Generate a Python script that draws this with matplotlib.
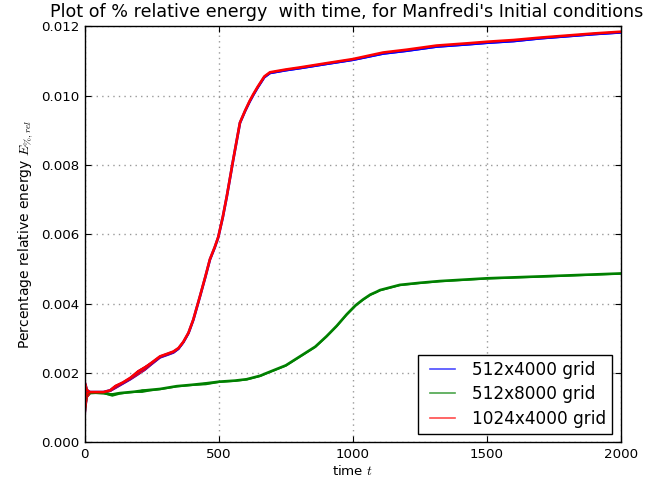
import matplotlib
matplotlib.use("Agg")
import matplotlib.pyplot as plt
from matplotlib.lines import Line2D
from matplotlib.legend_handler import HandlerLine2D
import numpy as np

plt.rcParams['mathtext.fontset'] = 'cm'
plt.rcParams['font.family'] = ['DejaVu Sans']

# time samples and relative energy (in %) for each run
t_red = [0, 3, 6, 10, 20, 40, 70, 95, 114, 143, 170, 194, 225, 250, 281, 310,
         331, 350, 368, 387, 405, 430, 450, 467, 485, 498, 515, 530, 554, 579,
         598, 615, 629, 645, 670, 691, 750, 803, 900, 1000, 1113, 1200, 1312,
         1436, 1500, 1600, 1700, 1800, 1900, 2000]
e_red = [0.00125, 0.00130, 0.00138, 0.00143, 0.00145, 0.00145, 0.00145, 0.00150,
         0.00162, 0.00173, 0.00186, 0.00201, 0.00216, 0.00230, 0.00248, 0.00256,
         0.00262, 0.00272, 0.00290, 0.00316, 0.00354, 0.00422, 0.00478, 0.00528,
         0.00563, 0.00592, 0.00650, 0.00710, 0.00816, 0.00922, 0.00956, 0.00984,
         0.01004, 0.01025, 0.01055, 0.01067, 0.01075, 0.01081, 0.01093, 0.01105,
         0.01124, 0.01132, 0.01144, 0.01151, 0.01155, 0.01160, 0.01167, 0.01173,
         0.01179, 0.01184]
# half amplitude of the fast oscillation around each sample
w_red = [0.00050, 0.00045, 0.00030, 0.00012, 0.00004, 0.00002, 0.00002, 0.00003,
         0.00006, 0.00004, 0.00005, 0.00008, 0.00007, 0.00005, 0.00004, 0.00004,
         0.00004, 0.00003, 0.00002, 0.00002, 0.00002, 0.00002, 0.00002, 0.00002,
         0.00002, 0.00002, 0.00002, 0.00002, 0.00002, 0.00002, 0.00002, 0.00002,
         0.00002, 0.00002, 0.00002, 0.00002, 0.00002, 0.00002, 0.00002, 0.00002,
         0.00002, 0.00002, 0.00002, 0.00002, 0.00002, 0.00002, 0.00002, 0.00002,
         0.00002, 0.00002]

t_blue = t_red
e_blue = [0.00125, 0.00130, 0.00138, 0.00143, 0.00145, 0.00145, 0.00145, 0.00150,
          0.00161, 0.00172, 0.00185, 0.00200, 0.00215, 0.00229, 0.00247, 0.00255,
          0.00261, 0.00271, 0.00289, 0.00315, 0.00353, 0.00421, 0.00477, 0.00527,
          0.00562, 0.00591, 0.00649, 0.00709, 0.00815, 0.00921, 0.00955, 0.00982,
          0.01002, 0.01023, 0.01053, 0.01065, 0.01073, 0.01079, 0.01091, 0.01103,
          0.01121, 0.01129, 0.01141, 0.01148, 0.01152, 0.01157, 0.01165, 0.01171,
          0.01177, 0.01182]

t_green = [0, 3, 6, 10, 20, 40, 70, 101, 130, 157, 185, 213, 240, 281, 343,
           400, 450, 502, 560, 604, 654, 679, 750, 803, 860, 902, 940, 977,
           1010, 1038, 1065, 1088, 1101, 1175, 1250, 1324, 1500, 1721, 2000]
e_green = [0.00125, 0.00130, 0.00138, 0.00142, 0.00143, 0.00143, 0.00142, 0.00138,
           0.00142, 0.00144, 0.00146, 0.00149, 0.00151, 0.00154, 0.00162, 0.00166,
           0.00170, 0.00175, 0.00178, 0.00182, 0.00192, 0.00200, 0.00222, 0.00248,
           0.00276, 0.00306, 0.00336, 0.00369, 0.00395, 0.00412, 0.00426, 0.00434,
           0.00439, 0.00454, 0.00460, 0.00465, 0.00473, 0.00479, 0.00487]
w_green = [0.00045, 0.00040, 0.00025, 0.00010, 0.00003, 0.00002, 0.00002, 0.00005,
           0.00003, 0.00002, 0.00002, 0.00005, 0.00003, 0.00002, 0.00002, 0.00002,
           0.00004, 0.00002, 0.00002, 0.00002, 0.00002, 0.00002, 0.00002, 0.00002,
           0.00002, 0.00002, 0.00002, 0.00002, 0.00002, 0.00002, 0.00002, 0.00002,
           0.00002, 0.00002, 0.00002, 0.00002, 0.00002, 0.00002, 0.00002]

labels = ["512x4000 grid", "512x8000 grid", "1024x4000 grid"]
colors = ["#0000ff", "#008000", "#ff0000"]

fig = plt.figure(figsize=(6.67, 4.84), dpi=100)
ax = fig.add_axes([0.127, 0.086, 0.804, 0.860])

def draw(t, e, w, c):
    t = np.asarray(t); e = np.asarray(e); w = np.asarray(w)
    ax.fill_between(t, e - w, e + w, color=c, lw=0)
    ax.plot(t, e, color=c, lw=1.9, solid_joinstyle='round')

draw(t_blue, e_blue, w_red, colors[0])
draw(t_green, e_green, w_green, colors[1])
draw(t_red, e_red, w_red, colors[2])

ax.set_xlim(0, 2000)
ax.set_ylim(0, 0.012)
ax.set_xticks([0, 500, 1000, 1500, 2000])
ax.set_yticks([0.000, 0.002, 0.004, 0.006, 0.008, 0.010, 0.012])
ax.yaxis.set_major_formatter(matplotlib.ticker.FormatStrFormatter('%.3f'))
ax.tick_params(direction='in', top=True, right=True, length=4, width=0.8,
               labelsize=9.6, pad=4)
for s in ax.spines.values():
    s.set_linewidth(1.0)
ax.grid(True, linestyle=(0, (1, 3)), color='#999999', linewidth=1.0)

ax.set_title("Plot of % relative energy  with time, for Manfredi's Initial conditions",
             fontsize=12.6, pad=6.5, x=0.488)
ax.set_xlabel("time $t$", fontsize=9.6, labelpad=2)
ax.set_ylabel("Percentage relative energy $E_{\\%,rel}$", fontsize=10, labelpad=4)


class InsetLineHandler(HandlerLine2D):
    """Legend line that starts a little right of the handle box edge."""
    def get_xdata(self, legend, xdescent, ydescent, width, height, fontsize):
        xd, xm = super().get_xdata(legend, xdescent, ydescent, width, height, fontsize)
        xd = np.asarray(xd, dtype=float)
        xd[0] = xd[0] + 0.2 * width
        return xd, xm


handles = [Line2D([], [], color=c, lw=1.2, alpha=0.7) for c in colors]
leg = ax.legend(handles, labels, loc='lower right', fontsize=12.2, fancybox=False,
                framealpha=1, edgecolor='black', handlelength=1.85,
                borderpad=0.35, borderaxespad=0.52, handletextpad=1.0,
                labelspacing=0.37,
                handler_map={Line2D: InsetLineHandler()})
leg.get_frame().set_linewidth(1.0)

fig.savefig("out.png", dpi=100)
